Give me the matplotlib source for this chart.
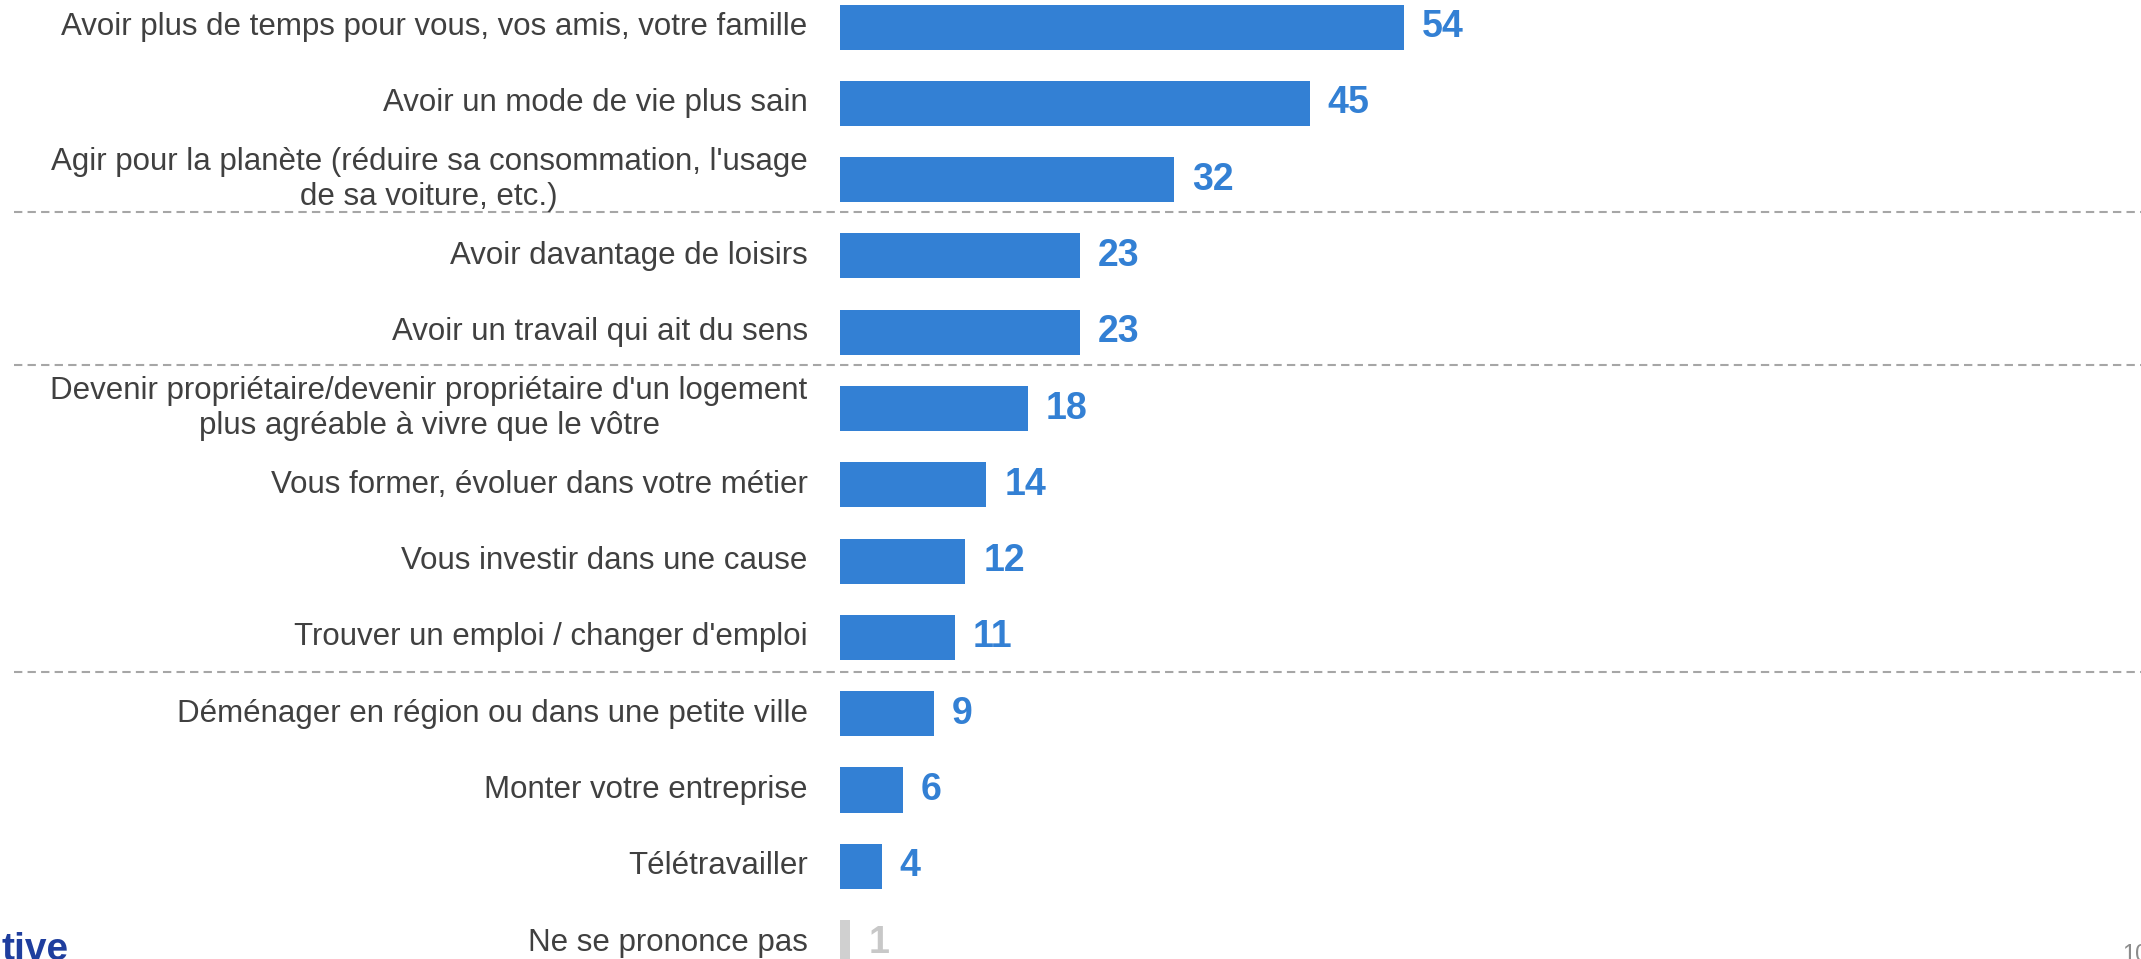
import matplotlib
matplotlib.use('Agg')
import matplotlib.pyplot as plt

# data, top to bottom
categories = [
    "Avoir plus de temps pour vous, vos amis, votre famille",
    "Avoir un mode de vie plus sain",
    "Agir pour la planète (réduire sa consommation, l'usage\nde sa voiture, etc.)",
    "Avoir davantage de loisirs",
    "Avoir un travail qui ait du sens",
    "Devenir propriétaire/devenir propriétaire d'un logement\nplus agréable à vivre que le vôtre",
    "Vous former, évoluer dans votre métier",
    "Vous investir dans une cause",
    "Trouver un emploi / changer d'emploi",
    "Déménager en région ou dans une petite ville",
    "Monter votre entreprise",
    "Télétravailler",
    "Ne se prononce pas",
]
values = [54, 45, 32, 23, 23, 18, 14, 12, 11, 9, 6, 4, 1]
group_breaks = [2.43, 4.43, 8.45]   # dashed separators between groups

plt.rcParams['font.family'] = ['Liberation Sans', 'DejaVu Sans']

BLUE = '#3380D4'
GREY_BAR = '#D0D0D0'
GREY_TXT = '#C8C8C8'
TXT = '#404040'

W, H = 2141, 959
fig = plt.figure(figsize=(W / 100, H / 100), dpi=100)
x0 = 840                      # pixel where bars start
ax = fig.add_axes([x0 / W, 0, 1 - x0 / W, 1])
px_per_unit = 10.44
ax.set_xlim(0, (W - x0) / px_per_unit)
ax.set_ylim(12.215, -0.354)
ax.axis('off')

n = len(values)
ypos = list(range(n))
colors = [BLUE] * (n - 1) + [GREY_BAR]
ax.barh(ypos, values, height=0.59, color=colors)

for i, (lab, v) in enumerate(zip(categories, values)):
    ax.text(-3.1, i, lab, ha='right', va='center', multialignment='center',
            fontsize=22.5, color=TXT, linespacing=1.25)
    ax.annotate(str(v), (v, i), xytext=(13, 0), textcoords='offset points',
                ha='left', va='center', fontsize=27, fontweight='bold',
                color=GREY_TXT if i == n - 1 else BLUE)

xmin = -(x0 - 14) / (W - x0)
for yb in group_breaks:
    ax.axhline(yb, xmin=xmin, xmax=1, color='#A6A6A6', lw=1.5,
               ls=(0, (4, 2.5)), clip_on=False)

# cut-off logo and page number at the bottom
fig.text(1 / W, 1 - 932 / H, "tive", ha='left', va='top', fontsize=28,
         fontweight='bold', color='#1F3E9E')
fig.text(2122 / W, 1 - 944 / H, "10", ha='left', va='top', fontsize=17,
         color='#8C8C8C')

fig.savefig('out.png', dpi=100)
